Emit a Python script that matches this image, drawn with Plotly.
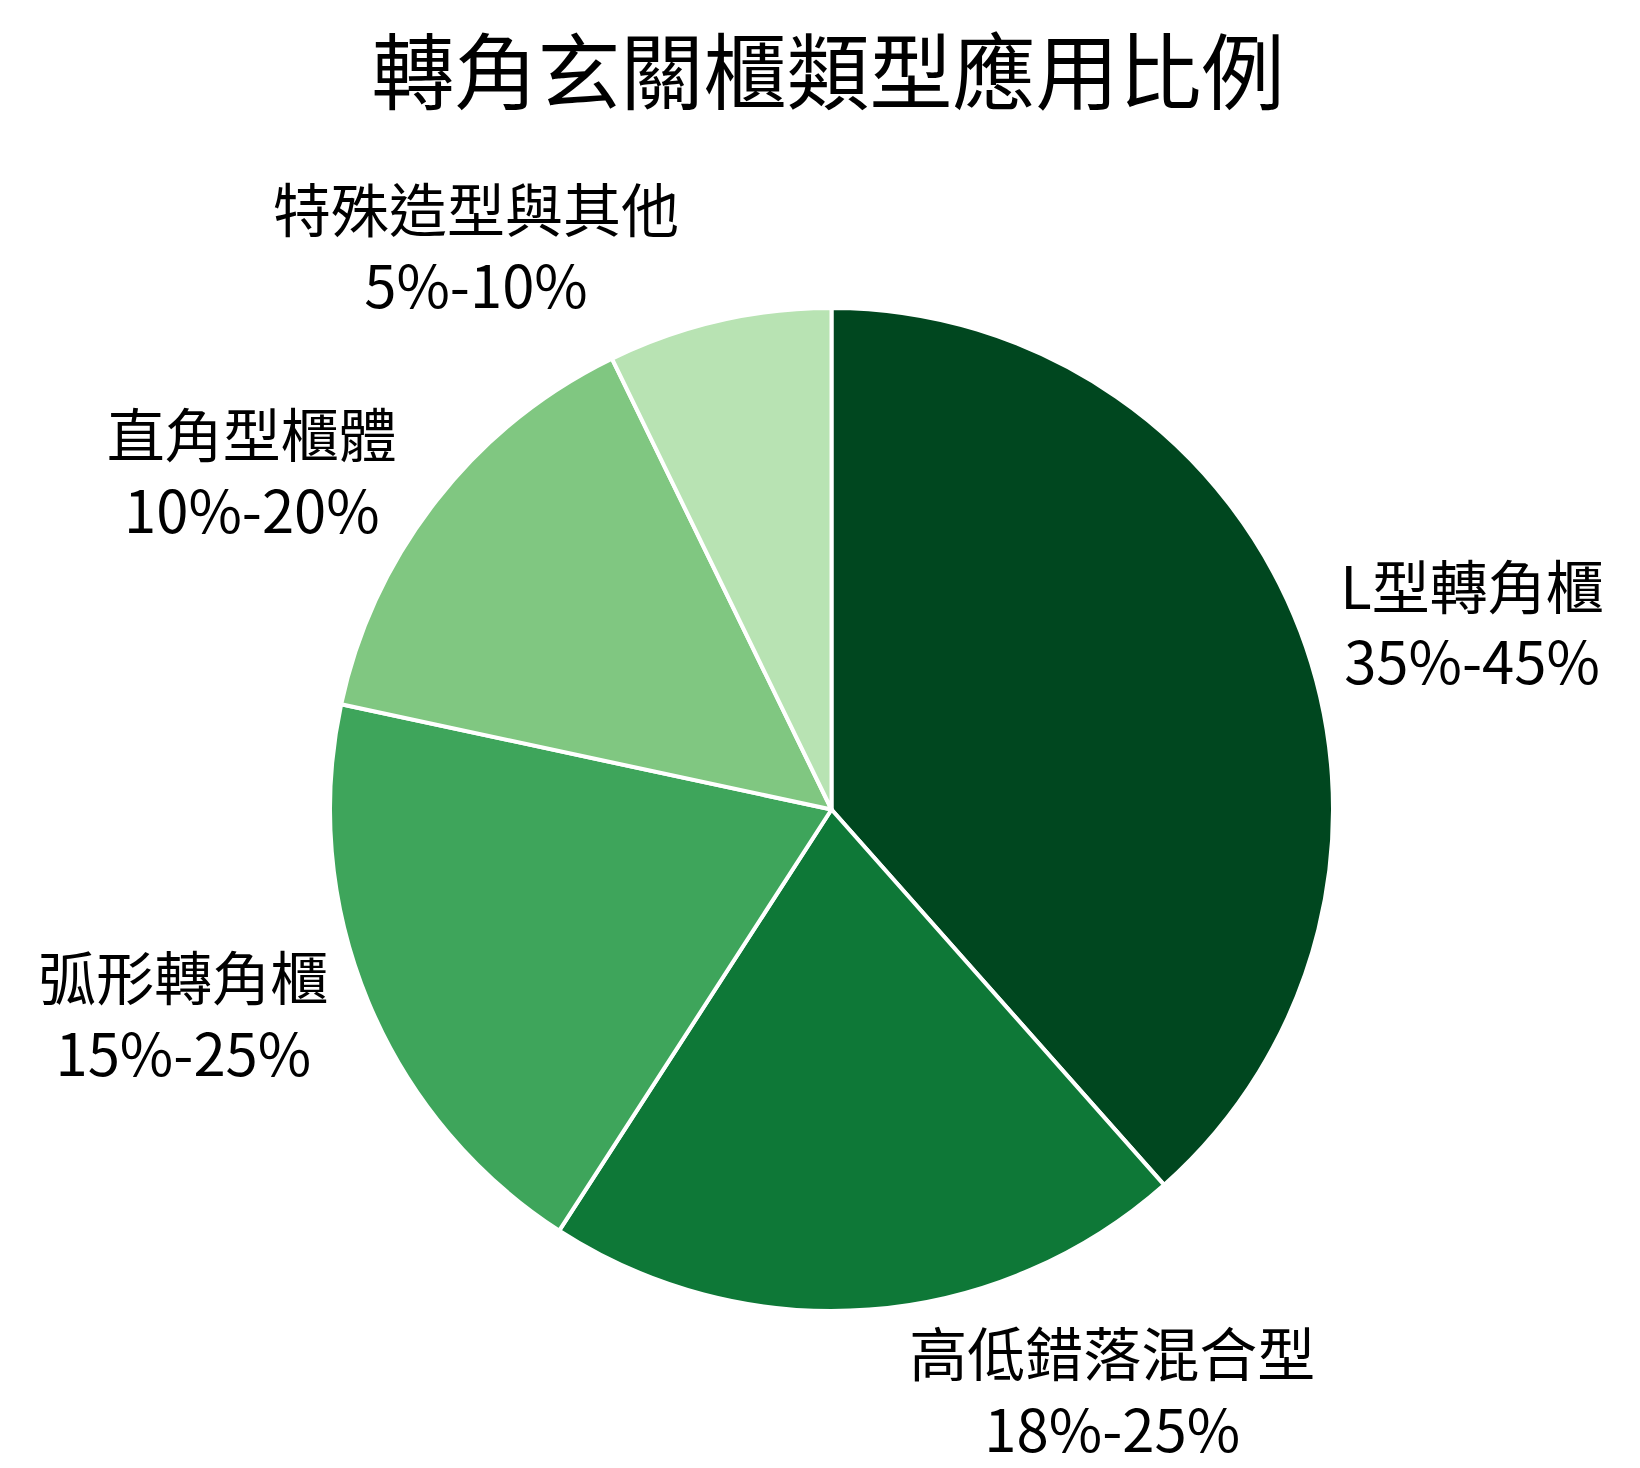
import plotly.graph_objects as go

# 轉角玄關櫃類型 (values = midpoint of each range)
categories = ["L型轉角櫃", "高低錯落混合型", "弧形轉角櫃", "直角型櫃體", "特殊造型與其他"]
ranges = ["35%-45%", "18%-25%", "15%-25%", "10%-20%", "5%-10%"]
values = [40, 21.5, 20, 15, 7.5]
colors = ["#00471f", "#0e7837", "#3ea55b", "#80c781", "#b8e3b3"]

labels_text = [f"{c}<br>{r}" for c, r in zip(categories, ranges)]

fig = go.Figure(go.Pie(
    labels=categories,
    values=values,
    text=labels_text,
    textinfo="text",
    textposition="outside",
    sort=False,
    direction="clockwise",
    rotation=0,
    marker=dict(colors=colors, line=dict(color="white", width=4)),
    textfont=dict(size=58, color="black", family="Noto Sans CJK TC"),
    showlegend=False,
    hoverinfo="label+text",
))

fig.update_layout(
    title=dict(text="轉角玄關櫃類型應用比例", x=0.5, xanchor="center", y=0.955, yanchor="middle",
               font=dict(size=83, color="black", family="Noto Sans CJK TC")),
    width=1640, height=1468,
    margin=dict(l=322, r=315, t=300, b=165),
    paper_bgcolor="white",
    font=dict(family="Noto Sans CJK TC"),
)

fig.write_html("out.html")
